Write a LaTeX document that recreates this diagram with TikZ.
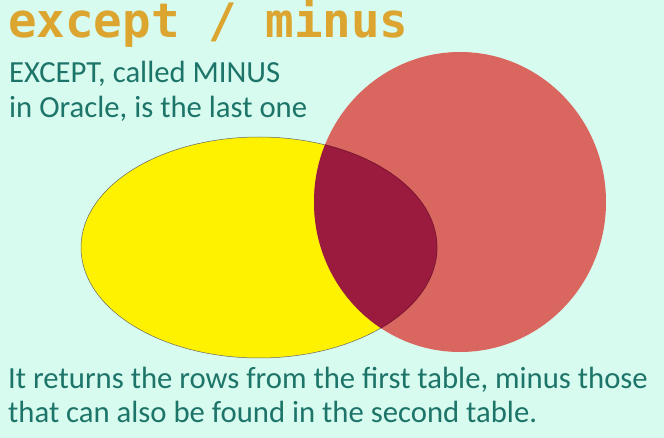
\documentclass[tikz,border=0pt]{standalone}
\usepackage{fontspec}
\setmainfont{Carlito}
\newfontfamily\titlefont{DejaVu Sans Mono}
\definecolor{mintbg}{HTML}{D7FBEE}
\definecolor{titlegold}{HTML}{DCA530}
\definecolor{bodyteal}{HTML}{1D7469}
\definecolor{setred}{HTML}{D9675F}
\definecolor{overlapred}{HTML}{9A1B3E}
\begin{document}
\begin{tikzpicture}[x=1pt,y=-1pt,
    txt/.style={anchor=base west, inner sep=0pt, text=bodyteal, font=\fontsize{30.7}{34}\selectfont}]
      \fill[mintbg] (0,0) rectangle (664,438);
      \useasboundingbox (0,0) rectangle (664,438);
      \node[anchor=base west, inner sep=0pt, text=titlegold, font=\titlefont\bfseries\fontsize{47.5}{50}\selectfont] (title) at (8,38) {except / minus};
      \node[txt] (line1) at (9,83) {EXCEPT, called MINUS};
      \node[txt] (line2) at (9,118) {in Oracle, is the last one};
      \fill[yellow] (259,247.5) ellipse [x radius=178pt, y radius=110.5pt];
      \draw[gray!80!black, line width=0.5pt] (259,247.5) ellipse [x radius=178pt, y radius=110.5pt];
      \fill[setred] (460,202) ellipse [x radius=146pt, y radius=150pt];
      \begin{scope}
        \clip (460,202) ellipse [x radius=146pt, y radius=150pt];
        \fill[overlapred] (259,247.5) ellipse [x radius=178pt, y radius=110.5pt];
        \draw[overlapred!80!black, line width=0.8pt] (259,247.5) ellipse [x radius=178pt, y radius=110.5pt];
      \end{scope}
      \node[txt] (note1) at (8,388) {It returns the rows from the first table, minus those};
      \node[txt] (note2) at (8,422) {that can also be found in the second table.};
    \end{tikzpicture}
\end{document}
